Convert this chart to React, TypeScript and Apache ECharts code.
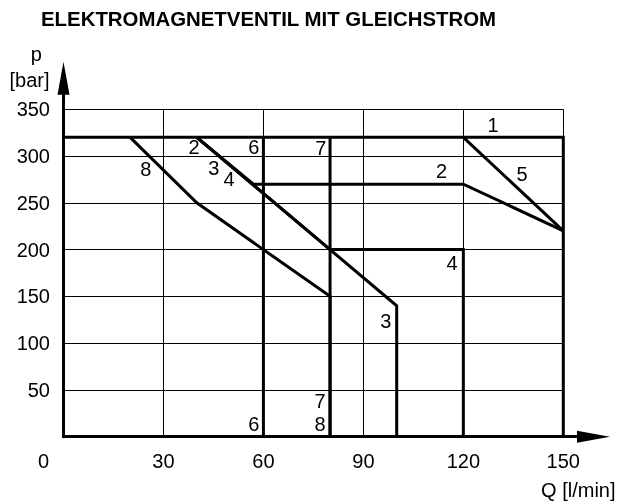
import React, { useEffect, useRef } from 'react';
import * as echarts from 'echarts';

const title = 'ELEKTROMAGNETVENTIL MIT GLEICHSTROM';
const xTickValues = [0, 30, 60, 90, 120, 150];
const yTickValues = [0, 50, 100, 150, 200, 250, 300, 350];

// Characteristic curves: [Q l/min, p bar]
const curve1 = [[0, 320], [150, 320], [150, 0]];
const curve2 = [[40, 320], [57, 270], [120, 270], [150, 220]];
const curve3 = [[40, 320], [100, 140], [100, 0]];
const curve4 = [[40, 320], [80, 200], [120, 200], [120, 0]];
const curve5 = [[120, 320], [150, 220]];
const curve6 = [[60, 320], [60, 0]];
const curve7 = [[80, 320], [80, 0]];
const curve8 = [[20, 320], [40, 250], [60, 200], [80, 150], [80, 0]];

// Curve number labels
const labelTexts = ['1', '2', '6', '3', '4', '8', '7', '2', '5', '4', '3', '6', '7', '8'];
const labelQ = [128.9, 39.2, 57.1, 45.1, 49.7, 24.7, 77.2, 113.5, 137.6, 116.6, 96.7, 57.1, 77, 77];
const labelP = [333.2, 309.2, 309.2, 287.5, 275.3, 285.8, 308.3, 284.3, 280.7, 185.4, 123.9, 13.4, 37.8, 13.4];

const FONT = 'Liberation Sans';
const FS = 20;

export default function App() {
  const ref = useRef<HTMLDivElement>(null);
  useEffect(() => {
    if (!ref.current) return;
    const chart = echarts.init(ref.current, null, { renderer: 'svg' });
    const curves = [curve1, curve2, curve3, curve4, curve5, curve6, curve7, curve8];
    const lineSeries = curves.map((c) => ({
      type: 'line',
      xAxisIndex: 0,
      yAxisIndex: 0,
      data: c,
      symbol: 'none',
      lineStyle: { color: '#000', width: 3, join: 'miter' },
      z: 3,
    }));
    const labelData = labelTexts.map((t, i) => ({ name: t, value: [labelQ[i], labelP[i]] }));
    const option: any = {
      animation: false,
      textStyle: { fontFamily: FONT },
      title: {
        text: title,
        left: 41,
        top: 8.5,
        padding: 0,
        textStyle: { fontSize: 20.4, fontWeight: 'bold', color: '#000', fontFamily: FONT },
      },
      grid: [
        { left: 63.5, top: 109.3, right: 55.7, bottom: 65.3, containLabel: false, outerBoundsMode: 'none' },
        { left: 63.5, top: 78.2, right: 25.5, bottom: 65.3, containLabel: false, outerBoundsMode: 'none' },
      ],
      xAxis: [
        {
          type: 'value',
          gridIndex: 0,
          min: xTickValues[0],
          max: xTickValues[xTickValues.length - 1],
          interval: 30,
          axisLine: { show: false },
          axisTick: { show: false },
          axisLabel: {
            margin: 14,
            fontSize: FS,
            color: '#000',
            fontFamily: FONT,
            formatter: (v: number) => (v === 0 ? '{o|0}' : String(v)),
            rich: { o: { fontSize: FS, color: '#000', fontFamily: FONT, padding: [0, 40, 0, 0] } },
          },
          splitLine: { show: true, lineStyle: { color: '#000', width: 1 } },
        },
        {
          type: 'value',
          gridIndex: 1,
          min: 0,
          max: 1,
          axisLine: {
            show: true,
            symbol: ['none', 'triangle'],
            symbolSize: [12, 33],
            lineStyle: { color: '#000', width: 3 },
          },
          axisTick: { show: false },
          axisLabel: { show: false },
          splitLine: { show: false },
        },
      ],
      yAxis: [
        {
          type: 'value',
          gridIndex: 0,
          min: yTickValues[0],
          max: yTickValues[yTickValues.length - 1],
          interval: 50,
          axisLine: { show: false },
          axisTick: { show: false },
          axisLabel: {
            margin: 13.5,
            fontSize: FS,
            color: '#000',
            fontFamily: FONT,
            formatter: (v: number) => (v === 0 ? '' : String(v)),
          },
          splitLine: { show: true, lineStyle: { color: '#000', width: 1 } },
        },
        {
          type: 'value',
          gridIndex: 1,
          min: 0,
          max: 1,
          axisLine: {
            show: true,
            symbol: ['none', 'triangle'],
            symbolSize: [12, 33],
            lineStyle: { color: '#000', width: 3 },
          },
          axisTick: { show: false },
          axisLabel: { show: false },
          splitLine: { show: false },
        },
      ],
      graphic: [
        { type: 'text', x: 36.2, y: 54.2, style: { text: 'p', fontSize: FS, fontFamily: FONT, fill: '#000', align: 'center', verticalAlign: 'middle' } },
        { type: 'text', x: 29.5, y: 79.5, style: { text: '[bar]', fontSize: FS, fontFamily: FONT, fill: '#000', align: 'center', verticalAlign: 'middle' } },
        { type: 'text', x: 615.5, y: 490, style: { text: 'Q [l/min]', fontSize: FS, fontFamily: FONT, fill: '#000', align: 'right', verticalAlign: 'middle' } },
      ],
      series: [
        ...lineSeries,
        {
          type: 'scatter',
          xAxisIndex: 0,
          yAxisIndex: 0,
          data: labelData,
          symbolSize: 0,
          itemStyle: { color: '#000', opacity: 1 },
          label: {
            show: true,
            position: 'inside',
            formatter: '{b}',
            fontSize: FS,
            color: '#000',
            opacity: 1,
            textBorderWidth: 0,
            fontFamily: FONT,
          },
          z: 4,
        },
      ],
    };
    chart.setOption(option);
    return () => chart.dispose();
  }, []);
  return <div ref={ref} style={{ position: 'fixed', left: 0, top: 0, width: 619, height: 502 }} />;
}
